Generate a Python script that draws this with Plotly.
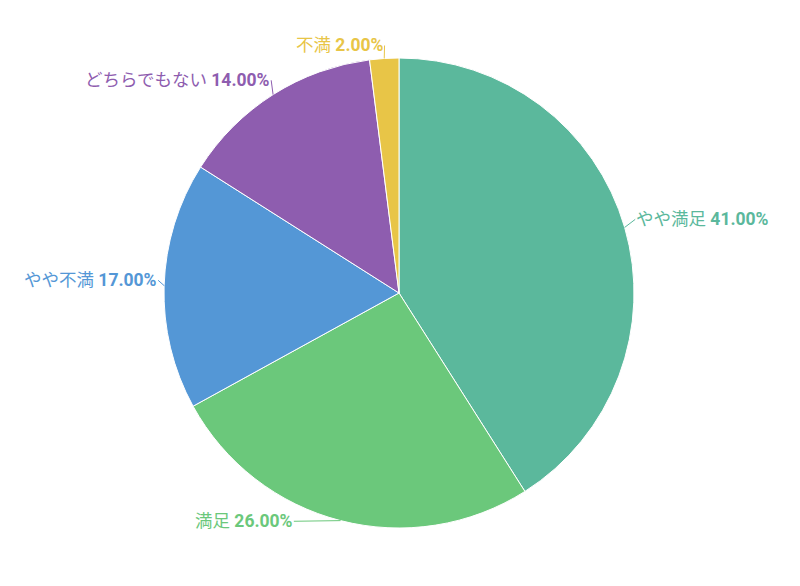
import math
import plotly.graph_objects as go

labels = ["やや満足", "満足", "やや不満", "どちらでもない", "不満"]
values = [41, 26, 17, 14, 2]
colors = ["#5bb89c", "#6bc87b", "#5497d6", "#8e5daf", "#e8c547"]

# layout / style constants (page body has an 8px margin)
W, H = 784, 570
CX, CY, R = 391, 285, 235          # pie centre and radius in figure pixels
LINE_LEN = 11                       # radial leader length (px)
TEXT_RAISE = 5                      # text sits slightly above the leader end
EXTRA_SHIFT = [(0, 0), (-44, -5), (5, 0), (4, 0), (1, 3)]  # label adjustments (px)
FONT = "Roboto, Noto Sans CJK JP, sans-serif"

fig = go.Figure(go.Pie(
    labels=labels,
    values=values,
    sort=False,
    direction="clockwise",
    rotation=0,
    marker=dict(colors=colors, line=dict(color="white", width=1)),
    textinfo="none",
    hoverinfo="label+percent",
    domain=dict(x=[(CX - R) / W, (CX + R) / W], y=[1 - (CY + R) / H, 1 - (CY - R) / H]),
    showlegend=False,
))

total = sum(values)
cum = 0
annotations = []
for lab, v, col, (sx, sy) in zip(labels, values, colors, EXTRA_SHIFT):
    theta = 2 * math.pi * (cum + v / 2) / total
    cum += v
    s, c = math.sin(theta), math.cos(theta)
    ex, ey = CX + R * s, CY - R * c
    ax = LINE_LEN * s + sx
    ay = -LINE_LEN * c - TEXT_RAISE + sy
    right = s > 0
    annotations.append(dict(
        x=ex / W, y=1 - ey / H, xref="paper", yref="paper",
        ax=ax, ay=ay, axref="pixel", ayref="pixel",
        showarrow=True, arrowhead=0, arrowwidth=1, arrowcolor=col,
        standoff=0, startstandoff=0,
        text=f"{lab} <b>{100 * v / total:.2f}%</b>",
        font=dict(color=col, size=17.5, family=FONT),
        xanchor="left" if right else "right", yanchor="middle",
        borderpad=0,
    ))

fig.update_layout(
    width=W, height=H,
    margin=dict(l=0, r=0, t=0, b=0),
    paper_bgcolor="white",
    font=dict(family=FONT),
    annotations=annotations,
)
fig.write_html("out.html")
